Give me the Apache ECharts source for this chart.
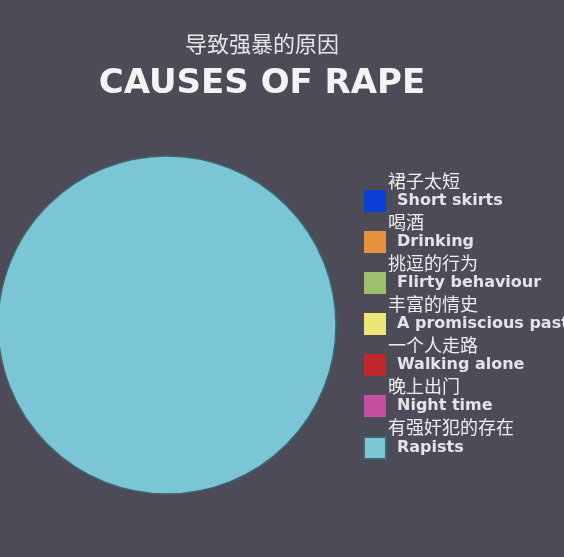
<!DOCTYPE html>
<html>
<head>
<meta charset="utf-8">
<script src="https://cdn.jsdelivr.net/npm/echarts@6/dist/echarts.min.js"></script>
<style>
  html, body { margin: 0; padding: 0; background: #4c4b57; }
  #chart { width: 564px; height: 557px; }
</style>
</head>
<body>
<div id="chart"></div>
<script>
// Legend entries: Chinese caption above, English label beside the swatch
const namesEn = ['Short skirts', 'Drinking', 'Flirty behaviour', 'A promiscious past', 'Walking alone', 'Night time', 'Rapists'];
const namesZh = ['裙子太短', '喝酒', '挑逗的行为', '丰富的情史', '一个人走路', '晚上出门', '有强奸犯的存在'];
const values = [0, 0, 0, 0, 0, 0, 100];
const colors = ['#0b3fd6', '#e8913f', '#9dc06f', '#ece677', '#c0282e', '#c64fa2', '#7bc6d4'];

const chart = echarts.init(document.getElementById('chart'));

// legend layout
const legLeft = 363, legTop = 190, itemSize = 22, step = 41;

// chinese captions sit just above each legend row
const zhLabels = namesZh.map((t, i) => ({
  type: 'text',
  left: 388,
  top: legTop + i * step - 18,
  style: {
    text: t,
    fill: '#eeeeee',
    font: '18px "Noto Sans CJK SC"'
  }
}));

chart.setOption({
  backgroundColor: '#4c4b57',
  color: colors,
  title: {
    text: '导致强暴的原因',
    subtext: 'CAUSES OF RAPE',
    left: 257,
    top: 28,
    textAlign: 'center',
    itemGap: 12,
    textStyle: { color: '#e6e6e6', fontSize: 22, fontWeight: 'normal', fontFamily: 'Noto Sans CJK SC' },
    subtextStyle: { color: '#f4f4f4', fontSize: 34, fontWeight: 'bold', fontFamily: 'DejaVu Sans' }
  },
  legend: {
    orient: 'vertical',
    left: legLeft,
    top: legTop,
    padding: 0,
    itemWidth: itemSize,
    itemHeight: itemSize,
    itemGap: step - itemSize,
    icon: 'rect',
    selectedMode: false,
    data: namesEn,
    textStyle: {
      color: '#e4e4e8',
      fontSize: 16,
      fontWeight: 'bold',
      fontFamily: 'DejaVu Sans',
      padding: [3, 0, 0, 6]
    }
  },
  graphic: zhLabels,
  series: [{
    type: 'pie',
    center: [167, 325],
    radius: 169,
    startAngle: 90,
    silent: true,
    label: { show: false },
    labelLine: { show: false },
    data: namesEn.map((n, i) => ({
      name: n,
      value: values[i],
      itemStyle: values[i] > 0 ? { borderColor: '#3f6472', borderWidth: 1.5 } : { borderWidth: 0 }
    }))
  }]
});
</script>
</body>
</html>
